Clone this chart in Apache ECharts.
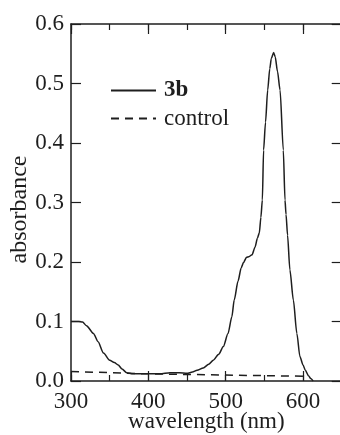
<!DOCTYPE html>
<html>
<head>
<meta charset="utf-8">
<script src="https://cdn.jsdelivr.net/npm/echarts@6/dist/echarts.min.js"></script>
<style>html,body{margin:0;padding:0;background:#fff}#c{width:340px;height:435px}</style>
</head>
<body>
<div id="c"></div>
<script>
// wavelength (nm) and absorbance for 3b
const wl3b = [300,310,315,320,329,335,342,350,356,361,366,372,380,400,415,428,440,450,457,463,471,478,484,491,497,503,508,511,516,520,523,527,530,534,538,541,543.5,545.5,547.4,549,551.5,554.3,557,559,562,564,567,570.3,574.5,576.7,578,580,583,587.5,592,596,600,603,607,610,613];
const abs3b = [0.100,0.100,0.099,0.093,0.080,0.066,0.047,0.035,0.031,0.027,0.020,0.014,0.012,0.012,0.012,0.014,0.014,0.013,0.015,0.018,0.022,0.028,0.035,0.045,0.058,0.080,0.108,0.136,0.168,0.190,0.199,0.208,0.209,0.212,0.225,0.240,0.249,0.275,0.304,0.388,0.435,0.489,0.525,0.542,0.552,0.545,0.520,0.489,0.388,0.304,0.280,0.245,0.187,0.136,0.080,0.041,0.027,0.018,0.009,0.004,0.000];
// control
const wlCtrl = [300,350,400,450,500,550,605];
const absCtrl = [0.016,0.014,0.012,0.011,0.010,0.009,0.008];
const xTicksMajor = 100, xTicksMinor = 50;
const seriesNames = ['3b','control'];

const ink = '#1e1e1e';
const font = '"Liberation Serif", "Times New Roman", serif';
const chart = echarts.init(document.getElementById('c'), null, {renderer:'canvas'});
const pairs = (xs, ys) => xs.map((x,i)=>[x, ys[i]]);
const xBase = {type:'value', min:300, max:650, gridIndex:0};
chart.setOption({
  animation:false,
  backgroundColor:'#fff',
  grid:{left:71, top:24, width:270.7, height:357, outerBoundsMode:'none', containLabel:false},
  legend:{
    orient:'vertical', left:110, top:79, padding:0, itemWidth:45, itemHeight:14, itemGap:5,
    data:seriesNames,
    itemStyle:{opacity:0},
    formatter: n => n==='3b' ? '{b|3b}' : n,
    textStyle:{fontFamily:font, fontSize:23, color:ink, padding:[0,0,0,3],
      rich:{b:{fontFamily:font, fontSize:23, fontWeight:'bold', color:ink}}}
  },
  xAxis:[
    Object.assign({}, xBase, {position:'bottom', interval:xTicksMajor,
      name:'wavelength (nm)', nameLocation:'middle', nameGap:29, nameMoveOverlap:false,
      nameTextStyle:{fontFamily:font, fontSize:23, color:ink},
      axisLine:{lineStyle:{color:ink, width:1.5}},
      axisTick:{inside:true, length:10, lineStyle:{color:ink, width:1.2}},
      axisLabel:{fontFamily:font, fontSize:23, color:ink, margin:9, showMaxLabel:false,
        formatter: v => (v % 100 === 0 ? String(v) : '')},
      splitLine:{show:false}}),
    Object.assign({}, xBase, {position:'bottom', interval:xTicksMinor,
      axisLine:{show:false}, axisLabel:{show:false}, splitLine:{show:false},
      axisTick:{inside:true, length:6, lineStyle:{color:ink, width:1.2}}}),
    Object.assign({}, xBase, {position:'top', interval:xTicksMajor,
      axisLine:{lineStyle:{color:ink, width:1.5}}, axisLabel:{show:false}, splitLine:{show:false},
      axisTick:{inside:true, length:10, lineStyle:{color:ink, width:1.2}}}),
    Object.assign({}, xBase, {position:'top', interval:xTicksMinor,
      axisLine:{show:false}, axisLabel:{show:false}, splitLine:{show:false},
      axisTick:{inside:true, length:6, lineStyle:{color:ink, width:1.2}}})
  ],
  yAxis:[
    {type:'value', min:0, max:0.6, interval:0.1, position:'left',
      name:'absorbance', nameLocation:'middle', nameGap:39, nameRotate:90, nameMoveOverlap:false,
      nameTextStyle:{fontFamily:font, fontSize:24, color:ink, padding:[0,14,0,0]},
      axisLine:{show:true, lineStyle:{color:ink, width:1.5}},
      axisTick:{show:true, inside:true, length:10, lineStyle:{color:ink, width:1.2}},
      axisLabel:{fontFamily:font, fontSize:23, color:ink, margin:7, formatter: v => v.toFixed(1)},
      splitLine:{show:false}},
    {type:'value', min:0, max:0.6, interval:0.1, position:'right',
      axisLine:{show:true, lineStyle:{color:ink, width:1.5}},
      axisTick:{show:true, inside:true, length:10, lineStyle:{color:ink, width:1.2}},
      axisLabel:{show:false}, splitLine:{show:false}}
  ],
  series:[
    {name:'3b', type:'line', xAxisIndex:0, yAxisIndex:0, data:pairs(wl3b, abs3b),
      symbol:'none', smooth:0.25, smoothMonotone:'x', color:ink,
      lineStyle:{color:ink, width:1.5, type:'solid'}, z:3},
    {name:'control', type:'line', xAxisIndex:0, yAxisIndex:0, data:pairs(wlCtrl, absCtrl),
      symbol:'none', smooth:false, color:ink,
      lineStyle:{color:ink, width:1.5, type:[8,6]}, z:2}
  ]
});
</script>
</body>
</html>
